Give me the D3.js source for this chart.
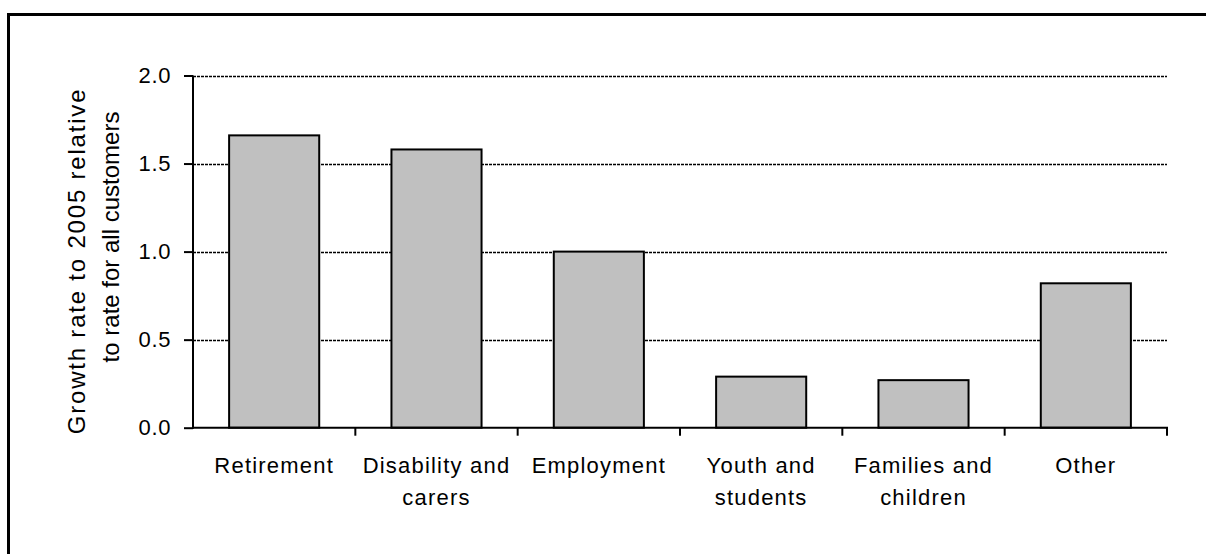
<!DOCTYPE html>
<html>
<head>
<meta charset="utf-8">
<script src="https://cdn.jsdelivr.net/npm/d3@7"></script>
<style>
  body { margin: 0; background: #fff; }
  text { font-family: "Liberation Sans", Arial, sans-serif; fill: #000; }
</style>
</head>
<body>
<script>
'use strict';

// chart data
const categories = ['Retirement', 'Disability and carers', 'Employment', 'Youth and students', 'Families and children', 'Other'];
const catLines = [['Retirement'], ['Disability and', 'carers'], ['Employment'], ['Youth and', 'students'], ['Families and', 'children'], ['Other']];
const values = [1.66, 1.58, 1.0, 0.29, 0.27, 0.82];
const yTicks = [0, 0.5, 1.0, 1.5, 2.0];
const yLabelLines = ['Growth rate to 2005 relative', 'to rate for all customers'];

const width = 1206, height = 554;
const plot = { left: 193, right: 1167, top: 75.5, bottom: 427.7 };

let svg = d3.select('body').append('svg')
  .attr('width', width)
  .attr('height', height);

// outer frame (runs off the right and bottom edge)
svg.append('rect')
  .attr('x', 8.5).attr('y', 14.5)
  .attr('width', 1400).attr('height', 1000)
  .attr('fill', 'none')
  .attr('stroke', '#000')
  .attr('stroke-width', 3);

let x = d3.scaleBand()
  .domain(categories)
  .range([plot.left, plot.right])
  .paddingInner(0.445)
  .paddingOuter(0.2225);

let xEdge = d3.scaleBand()
  .domain(categories)
  .range([plot.left, plot.right]);

let y = d3.scaleLinear()
  .domain([0, 2])
  .range([plot.bottom, plot.top]);

// gridlines, snapped to pixel rows so they stay dark
svg.append('g')
  .selectAll('line')
  .data(yTicks.filter(d => d > 0))
  .enter()
  .append('line')
    .attr('x1', plot.left).attr('x2', plot.right)
    .attr('y1', d => Math.round(y(d)) + 0.5).attr('y2', d => Math.round(y(d)) + 0.5)
    .attr('stroke', '#000')
    .attr('stroke-width', 1.5)
    .attr('stroke-dasharray', '3,1');

// bars
svg.append('g')
  .selectAll('rect')
  .data(values)
  .enter()
  .append('rect')
    .attr('x', (d, i) => x(categories[i]))
    .attr('y', d => y(d))
    .attr('width', x.bandwidth())
    .attr('height', d => y(0) - y(d))
    .attr('fill', '#c0c0c0')
    .attr('stroke', '#000')
    .attr('stroke-width', 2);

// y axis
let yAxis = d3.axisLeft(y)
  .tickValues(yTicks)
  .tickFormat(d3.format('.1f'))
  .tickSize(9)
  .tickPadding(13);
let gy = svg.append('g')
  .attr('transform', `translate(${plot.left}, 0)`)
  .call(yAxis);
gy.select('.domain').remove();
gy.append('line')
  .attr('x1', 0).attr('x2', 0)
  .attr('y1', plot.top).attr('y2', plot.bottom + 1)
  .attr('stroke', '#000').attr('stroke-width', 2);
gy.selectAll('.tick line').attr('stroke', '#000').attr('stroke-width', 2);
gy.selectAll('.tick text')
  .style('font-family', '"Liberation Sans", Arial, sans-serif')
  .style('font-size', '22px')
  .style('letter-spacing', '0.6px')
  .attr('fill', '#000');

// x axis with ticks at category edges
let gx = svg.append('g')
  .attr('transform', `translate(0, ${plot.bottom})`);
gx.append('line')
  .attr('x1', plot.left - 1).attr('x2', plot.right + 1)
  .attr('y1', 0).attr('y2', 0)
  .attr('stroke', '#000').attr('stroke-width', 2);
let edges = categories.map(c => xEdge(c) + xEdge.bandwidth());
gx.selectAll('.edge')
  .data(edges)
  .enter()
  .append('line')
    .attr('x1', d => d).attr('x2', d => d)
    .attr('y1', 0).attr('y2', 8)
    .attr('stroke', '#000').attr('stroke-width', 2);

// category labels
let labels = svg.append('g')
  .selectAll('text')
  .data(catLines)
  .enter()
  .append('text')
    .attr('text-anchor', 'middle')
    .style('font-size', '22px')
    .style('letter-spacing', '1.2px');
labels.selectAll('tspan')
  .data((d, i) => d.map(t => ({ t: t, i: i })))
  .enter()
  .append('tspan')
    .attr('x', d => xEdge(categories[d.i]) + xEdge.bandwidth() / 2)
    .attr('y', (d, j) => 473 + j * 32)
    .text(d => d.t);

// y axis title
svg.append('text')
  .attr('transform', 'translate(85, 261) rotate(-90)')
  .attr('text-anchor', 'middle')
  .style('font-size', '24px')
  .style('letter-spacing', '1.8px')
  .text(yLabelLines[0]);
svg.append('text')
  .attr('transform', 'translate(119, 237) rotate(-90)')
  .attr('text-anchor', 'middle')
  .style('font-size', '24px')
  .text(yLabelLines[1]);
</script>
</body>
</html>
